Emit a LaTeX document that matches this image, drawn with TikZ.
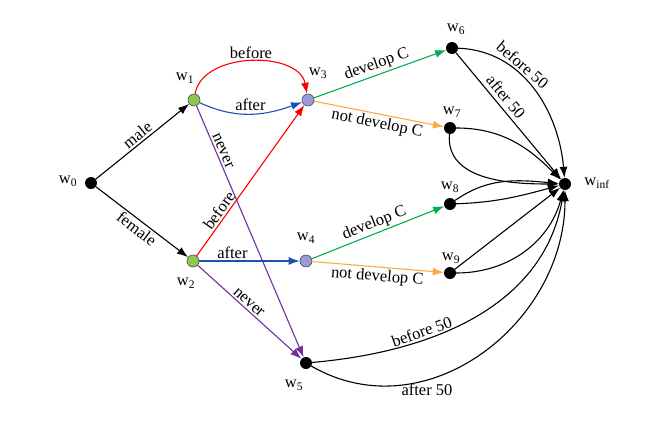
\documentclass[tikz,border=0pt]{standalone}
\usepackage{fontspec}
\setmainfont{Liberation Serif}
\usetikzlibrary{arrows.meta}
\definecolor{nodegreen}{HTML}{8CC84B}
\definecolor{nodelav}{HTML}{9A9ADE}
\definecolor{ered}{HTML}{FF0000}
\definecolor{eblue}{HTML}{1F4FAF}
\definecolor{epurple}{HTML}{7030A0}
\definecolor{egreen}{HTML}{00B050}
\definecolor{eorange}{HTML}{FFA646}
\tikzset{
  every node/.style={font=\fontsize{16.5}{19}\selectfont,text=black},
  blk/.style={circle,fill=black,inner sep=0pt,minimum size=12pt},
  grn/.style={circle,fill=nodegreen,draw=black!70,line width=0.6pt,inner sep=0pt,minimum size=12pt},
  lav/.style={circle,fill=nodelav,draw=black!70,line width=0.6pt,inner sep=0pt,minimum size=12pt},
  lbl/.style={inner sep=1pt},
  edge/.style={line width=1.1pt,-{Latex[length=11pt,width=8pt]}},
  elab/.style={sloped,inner sep=2pt}
}
\newcommand{\wl}[1]{w\textsubscript{#1}}
\begin{document}
\begin{tikzpicture}[x=1pt,y=-1pt]
\useasboundingbox (0,0) rectangle (654,447);
% nodes
\node[blk] (w0) at (91,183) {};
\node[grn] (w1) at (194,100) {};
\node[grn] (w2) at (193,261) {};
\node[lav] (w3) at (308,100) {};
\node[lav] (w4) at (306,261) {};
\node[blk] (w5) at (306,363) {};
\node[blk] (w6) at (452,48) {};
\node[blk] (w7) at (450,128) {};
\node[blk] (w8) at (450,204) {};
\node[blk] (w9) at (450,273) {};
\node[blk] (wi) at (565,184) {};
% node labels
\node[lbl] (l0) at (68,181) {\wl{0}};
\node[lbl] (l1) at (185,78) {\wl{1}};
\node[lbl] (l2) at (186,283) {\wl{2}};
\node[lbl] (l3) at (318,73) {\wl{3}};
\node[lbl] (l4) at (306,238) {\wl{4}};
\node[lbl] (l5) at (294,385) {\wl{5}};
\node[lbl] (l6) at (456,29) {\wl{6}};
\node[lbl] (l7) at (452,112) {\wl{7}};
\node[lbl] (l8) at (450,187) {\wl{8}};
\node[lbl] (l9) at (451,258) {\wl{9}};
\node[lbl] (li) at (597,183) {\wl{inf}};
% edges from w0
\draw[edge] (w0) -- node[elab,above] {male} (w1);
\draw[edge] (w0) -- node[elab,below] {female} (w2);
% from w1
\draw[edge,ered] (w1) to[out=80,in=100] node[above,inner sep=2pt] {before} (w3);
\draw[edge,eblue] (w1) to[out=-25,in=200] node[above,inner sep=3pt,pos=0.5] {after} (w3);
\draw[edge,epurple] (w1) -- node[elab,above,pos=0.19] {never} (w5);
% from w2
\draw[edge,ered] (w2) -- node[elab,above,pos=0.27] {before} (w3);
\draw[edge,eblue] (w2) -- node[above,pos=0.33,inner sep=2pt] {after} (w4);
\draw[edge,epurple] (w2) -- node[elab,above,pos=0.45] {never} (w5);
% from w3, w4
\draw[edge,egreen] (w3) -- node[elab,above] {develop C} (w6);
\draw[edge,eorange] (w3) -- node[elab,below] {not develop C} (w7);
\draw[edge,egreen] (w4) -- node[elab,above] {develop C} (w8);
\draw[edge,eorange] (w4) -- node[elab,below] {not develop C} (w9);
% to winf
\draw[edge] (w6) to[out=-2,in=95] node[elab,above,pos=0.36] {before 50} (wi);
\draw[edge] (w6) -- node[elab,above,pos=0.4,inner sep=4pt] {after 50} (wi);
\draw[edge] (w7) to[out=0,in=135] (wi);
\draw[edge] (w7) to[out=-95,in=180] (wi);
\draw[edge] (w8) to[out=35,in=175] (wi);
\draw[edge] (w8) to[out=2,in=195] (wi);
\draw[edge] (w9) -- (wi);
\draw[edge] (w9) to[out=0,in=-105] (wi);
\draw[edge] (w5) to[out=5,in=-100] node[elab,above,pos=0.33] {before 50} (wi);
\draw[edge] (w5) to[out=-30,in=-90,looseness=1.1] node[below,pos=0.33,inner sep=4pt] {after 50} (wi);
\end{tikzpicture}
\end{document}
